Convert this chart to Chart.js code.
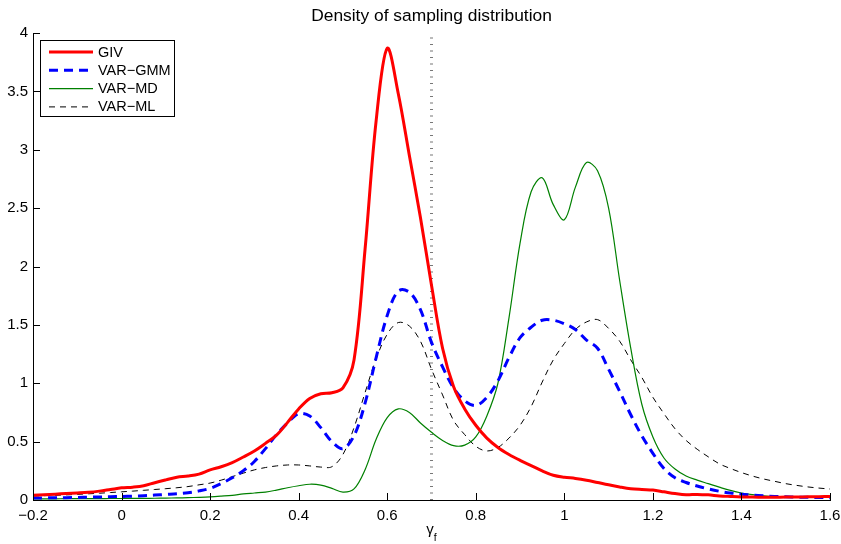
<!DOCTYPE html>
<html>
<head>
<meta charset="utf-8">
<script src="https://cdn.jsdelivr.net/npm/chart.js@4.4.1/dist/chart.umd.min.js"></script>
<style>
  body { margin: 0; background: #fff; }
  #wrap { width: 841px; height: 544px; }
</style>
</head>
<body>
<div id="wrap"><canvas id="chart" width="841" height="544"></canvas></div>
<script>
// grid of gamma_f values the densities were read at
const xs = [-0.2, -0.175, -0.15, -0.125, -0.1, -0.075, -0.05, -0.025, 0, 0.025, 0.05, 0.075,
  0.1, 0.125, 0.15, 0.175, 0.2, 0.225, 0.25, 0.275, 0.3, 0.325, 0.35, 0.375,
  0.4, 0.425, 0.45, 0.475, 0.5, 0.525, 0.55, 0.575, 0.6, 0.625, 0.65, 0.675,
  0.7, 0.725, 0.75, 0.775, 0.8, 0.825, 0.85, 0.875, 0.9, 0.925, 0.95, 0.975,
  1.0, 1.025, 1.05, 1.075, 1.1, 1.125, 1.15, 1.175, 1.2, 1.225, 1.25, 1.275,
  1.3, 1.325, 1.35, 1.375, 1.4, 1.425, 1.45, 1.475, 1.5, 1.525, 1.55, 1.575, 1.6];

const giv = [0.040, 0.045, 0.050, 0.055, 0.060, 0.066, 0.076, 0.090, 0.104, 0.110, 0.122, 0.148,
  0.172, 0.195, 0.205, 0.222, 0.258, 0.285, 0.320, 0.368, 0.420, 0.485, 0.555, 0.665,
  0.780, 0.870, 0.910, 0.918, 0.960, 1.200, 2.150, 3.250, 3.870, 3.480, 2.950, 2.420,
  1.840, 1.300, 0.970, 0.780, 0.640, 0.530, 0.450, 0.390, 0.340, 0.295, 0.250, 0.212,
  0.195, 0.185, 0.170, 0.150, 0.130, 0.112, 0.097, 0.090, 0.085, 0.070, 0.055, 0.045,
  0.048, 0.044, 0.035, 0.030, 0.026, 0.025, 0.024, 0.024, 0.025, 0.026, 0.027, 0.028, 0.030];

const varGmm = [0.017, 0.018, 0.019, 0.020, 0.022, 0.024, 0.026, 0.028, 0.030, 0.033, 0.037, 0.042,
  0.048, 0.054, 0.062, 0.078, 0.100, 0.140, 0.190, 0.250, 0.330, 0.440, 0.560, 0.660,
  0.740, 0.720, 0.620, 0.500, 0.440, 0.550, 0.830, 1.220, 1.580, 1.790, 1.780, 1.630,
  1.350, 1.140, 0.960, 0.850, 0.810, 0.880, 1.020, 1.220, 1.390, 1.480, 1.540, 1.540,
  1.510, 1.460, 1.370, 1.300, 1.120, 0.930, 0.730, 0.550, 0.400, 0.270, 0.190, 0.150,
  0.120, 0.095, 0.075, 0.060, 0.050, 0.042, 0.036, 0.031, 0.028, 0.025, 0.023, 0.021, 0.020];

const varMd = [0.010, 0.010, 0.010, 0.011, 0.011, 0.012, 0.012, 0.013, 0.013, 0.014, 0.014, 0.015,
  0.016, 0.018, 0.020, 0.023, 0.027, 0.033, 0.040, 0.052, 0.060, 0.068, 0.085, 0.105,
  0.122, 0.135, 0.128, 0.100, 0.068, 0.095, 0.260, 0.520, 0.705, 0.780, 0.750, 0.660,
  0.580, 0.510, 0.465, 0.470, 0.540, 0.720, 1.000, 1.560, 2.200, 2.640, 2.760, 2.530,
  2.400, 2.680, 2.890, 2.820, 2.500, 1.880, 1.300, 0.820, 0.540, 0.360, 0.265, 0.205,
  0.170, 0.140, 0.110, 0.082, 0.060, 0.046, 0.036, 0.030, 0.028, 0.027, 0.026, 0.025, 0.025];

const varMl = [0.034, 0.037, 0.040, 0.044, 0.048, 0.053, 0.058, 0.064, 0.070, 0.076, 0.083, 0.090,
  0.097, 0.105, 0.115, 0.130, 0.145, 0.170, 0.200, 0.230, 0.258, 0.278, 0.292, 0.300,
  0.300, 0.292, 0.282, 0.285, 0.390, 0.620, 0.920, 1.210, 1.420, 1.520, 1.490, 1.360,
  1.120, 0.900, 0.680, 0.560, 0.460, 0.420, 0.450, 0.530, 0.640, 0.800, 1.010, 1.200,
  1.340, 1.460, 1.525, 1.545, 1.470, 1.360, 1.200, 1.050, 0.880, 0.740, 0.610, 0.510,
  0.435, 0.370, 0.310, 0.270, 0.235, 0.205, 0.180, 0.160, 0.140, 0.125, 0.112, 0.102, 0.094];

const cutoff = 0.7; // dotted vertical line

const xTickValues = [-0.2, 0, 0.2, 0.4, 0.6, 0.8, 1, 1.2, 1.4, 1.6];
const xTickLabels = ['\u22120.2', '0', '0.2', '0.4', '0.6', '0.8', '1', '1.2', '1.4', '1.6'];
const yTickValues = [0, 0.5, 1, 1.5, 2, 2.5, 3, 3.5, 4];
const yTickLabels = ['0', '0.5', '1', '1.5', '2', '2.5', '3', '3.5', '4'];

const FONT = '"Liberation Sans", Arial, Helvetica, sans-serif';

const pts = ys => xs.map((x, i) => ({ x: x, y: ys[i] }));

// title, axis label, inward ticks and the boxed legend
const decorations = {
  id: 'decorations',
  afterDraw(chart) {
    const ctx = chart.ctx;
    const { left, right, top, bottom } = chart.chartArea;
    const sx = chart.scales.x, sy = chart.scales.y;
    ctx.save();

    ctx.strokeStyle = '#000';
    ctx.lineWidth = 1;
    ctx.setLineDash([]);
    ctx.beginPath();
    xTickValues.forEach(v => {
      const px = Math.round(sx.getPixelForValue(v)) + 0.5;
      ctx.moveTo(px, bottom);
      ctx.lineTo(px, bottom - 7);
    });
    yTickValues.forEach(v => {
      const py = Math.round(sy.getPixelForValue(v)) + 0.5;
      ctx.moveTo(left, py);
      ctx.lineTo(left + 7, py);
    });
    ctx.stroke();

    // title
    ctx.fillStyle = '#000';
    ctx.font = '17.4px ' + FONT;
    ctx.textAlign = 'center';
    ctx.textBaseline = 'alphabetic';
    ctx.fillText('Density of sampling distribution', (left + right) / 2, 21);

    // x label: gamma with subscript f
    const cx = (left + right) / 2;
    ctx.font = '15px ' + FONT;
    const wg = ctx.measureText('\u03b3').width;
    ctx.font = '10.5px ' + FONT;
    const wf = ctx.measureText('f').width;
    const x0 = cx - (wg + wf) / 2;
    ctx.textAlign = 'left';
    ctx.font = '15px ' + FONT;
    ctx.fillText('\u03b3', x0, 534);
    ctx.font = '10.5px ' + FONT;
    ctx.fillText('f', x0 + wg, 541);

    // legend
    const lx = 40.5, ly = 40.5, lw = 134, lh = 76;
    ctx.fillStyle = '#fff';
    ctx.fillRect(lx, ly, lw, lh);
    ctx.strokeStyle = '#000';
    ctx.lineWidth = 1;
    ctx.strokeRect(lx, ly, lw, lh);
    ctx.font = '14.5px ' + FONT;
    ctx.textBaseline = 'middle';
    chart.data.datasets.filter(d => d.label).forEach((d, i) => {
      const ry = 52 + i * 18.3;
      ctx.strokeStyle = d.borderColor;
      ctx.lineWidth = d.borderWidth;
      ctx.setLineDash(d.borderDash || []);
      ctx.beginPath();
      ctx.moveTo(49, ry);
      ctx.lineTo(93, ry);
      ctx.stroke();
      ctx.setLineDash([]);
      ctx.fillStyle = '#000';
      ctx.fillText(d.label, 98, ry + 0.5);
    });

    ctx.restore();
  }
};

new Chart(document.getElementById('chart'), {
  type: 'line',
  data: {
    datasets: [
      { label: 'GIV', data: pts(giv), borderColor: 'rgb(255,0,0)', borderWidth: 3 },
      { label: 'VAR\u2212GMM', data: pts(varGmm), borderColor: 'rgb(0,0,255)', borderWidth: 3, borderDash: [9, 6] },
      { label: 'VAR\u2212MD', data: pts(varMd), borderColor: 'rgb(0,128,0)', borderWidth: 1.2 },
      { label: 'VAR\u2212ML', data: pts(varMl), borderColor: '#000', borderWidth: 1, borderDash: [6, 5] },
      { label: '', data: [{ x: cutoff, y: 0 }, { x: cutoff, y: 4 }], borderColor: '#777',
        borderWidth: 3, borderDash: [1, 5.5], tension: 0 }
    ]
  },
  options: {
    responsive: false,
    animation: false,
    layout: { padding: { left: 0, right: 11, top: 33, bottom: 0 } },
    elements: {
      point: { radius: 0 },
      line: { tension: 0.35, fill: false, borderCapStyle: 'butt' }
    },
    plugins: {
      legend: { display: false },
      title: { display: false },
      tooltip: { enabled: false }
    },
    scales: {
      x: {
        type: 'linear',
        min: -0.2,
        max: 1.6,
        grid: { display: false, drawTicks: false },
        border: { display: true, color: '#000', width: 1 },
        afterBuildTicks: s => { s.ticks = xTickValues.map(v => ({ value: v })); },
        afterFit: s => { s.height = 44; s.paddingLeft = 0; s.paddingRight = 0; },
        ticks: {
          autoSkip: false,
          maxRotation: 0,
          padding: 7,
          color: '#000',
          font: { family: FONT, size: 15 },
          callback: (v, i) => xTickLabels[i]
        }
      },
      y: {
        type: 'linear',
        min: 0,
        max: 4,
        grid: { display: false, drawTicks: false },
        border: { display: true, color: '#000', width: 1 },
        afterBuildTicks: s => { s.ticks = yTickValues.map(v => ({ value: v })); },
        afterFit: s => { s.width = 33; s.paddingTop = 0; s.paddingBottom = 0; },
        ticks: {
          autoSkip: false,
          padding: 5,
          color: '#000',
          font: { family: FONT, size: 15 },
          callback: (v, i) => yTickLabels[i]
        }
      }
    }
  },
  plugins: [decorations]
});
</script>
</body>
</html>
